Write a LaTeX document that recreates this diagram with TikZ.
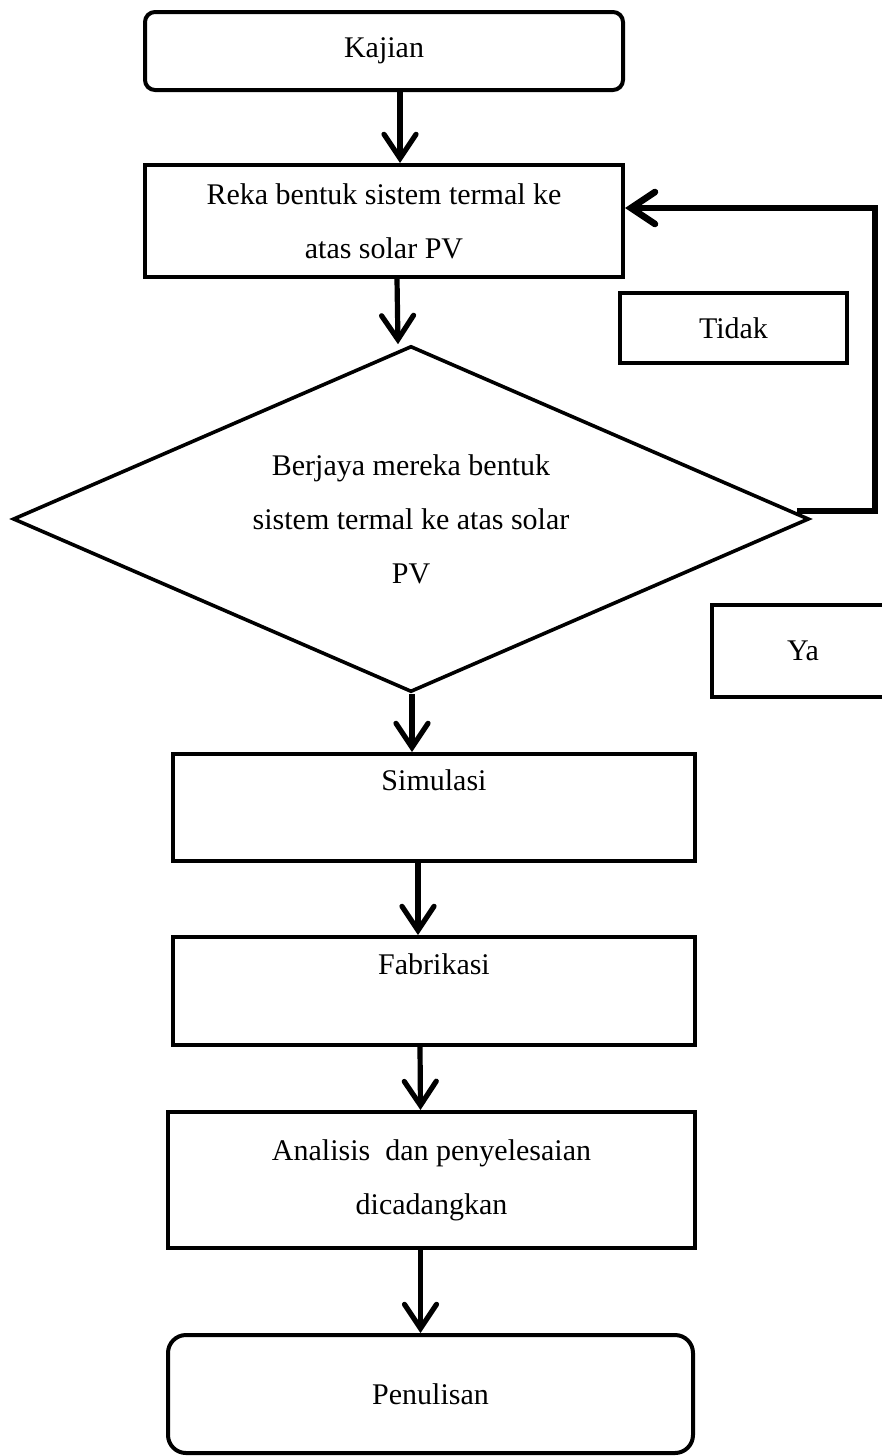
\documentclass[tikz,border=0pt]{standalone}
\usepackage{fontspec}
\setmainfont{Liberation Serif}
\usetikzlibrary{shapes,arrows}
\usetikzlibrary{arrows.meta, positioning}

\begin{document}
\begin{tikzpicture}[x=0.5pt, y=-0.5pt, font=\fontsize{15}{27}\selectfont,
    box/.style={draw, line width=2pt, align=center, inner sep=0pt},
    arr/.style={line width=2.6pt, -{Straight Barb[length=12pt, width=16pt, line cap=round]}}]
        \useasboundingbox (0,0) rectangle (882,1456);
        \node[box, rounded corners=5pt, minimum width=239pt, minimum height=39pt] (1) at (384,51) {Kajian};
        \node[box, minimum width=239pt, minimum height=56pt] (2) at (384,221) {Reka bentuk sistem termal ke\\ atas solar PV};
        \node[box, diamond, aspect=2.3, line width=1.8pt, minimum width=398pt, minimum height=173pt] (3) at (411,519) {Berjaya mereka bentuk\\ sistem termal ke atas solar\\ PV};
        \node[box, minimum width=261pt, minimum height=53.5pt] (4) at (434,807.5) {Simulasi\\ \mbox{}};
        \node[box, minimum width=261pt, minimum height=54pt] (5) at (434,991) {Fabrikasi\\ \mbox{}};
        \node[box, minimum width=263.5pt, minimum height=68pt] (6) at (431.5,1180) {Analisis\ \ dan penyelesaian\\ dicadangkan};
        \node[box, rounded corners=9pt, minimum width=262.5pt, minimum height=59pt] (7) at (430.5,1394) {Penulisan};
        \node[box, minimum width=113.5pt, minimum height=35pt] (8) at (733.5,328) {Tidak};
        \node[box, minimum width=91pt, minimum height=46pt] (9) at (803,651) {Ya};

        \draw[arr] ([xshift=8pt]1.south) -- ([xshift=8pt]2.north);
        \draw[arr] ([xshift=6.5pt]2.south) -- ([xshift=-6.5pt]3.north);
        \draw[arr] ([xshift=0.5pt]3.south) -- ([xshift=-11pt]4.north);
        \draw[arr] ([xshift=-8pt]4.south) -- ([xshift=-8pt]5.north);
        \draw[arr] ([xshift=-7pt]5.south) -- ([xshift=-5.5pt]6.north);
        \draw[arr] ([xshift=-5.5pt]6.south) -- ([xshift=-5pt]7.north);
        \draw[arr, line width=3.3pt] ([shift={(-7pt,4pt)}]3.east) -- ++(39pt,0) |- ([yshift=6.5pt]2.east);
\end{tikzpicture}
\end{document}
